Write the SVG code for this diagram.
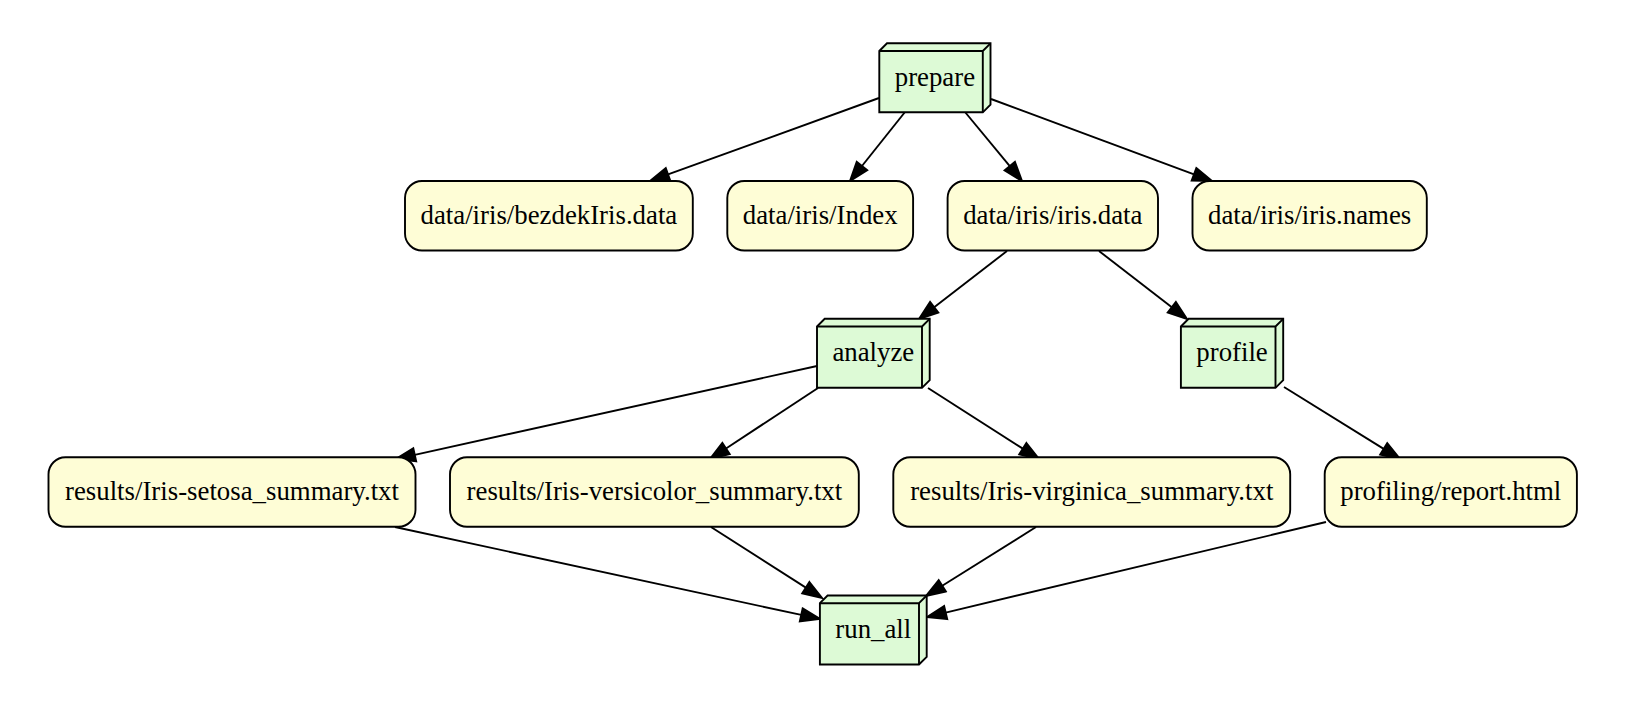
<svg xmlns="http://www.w3.org/2000/svg" width="1642" height="702" viewBox="0 0 1642 702">
<style>
.file rect{fill:#fefdd6;stroke:#000;stroke-width:1.9}
.task path{fill:#ddfad6;stroke:#000;stroke-width:1.9;stroke-linejoin:miter}
.task path.ln{fill:none}
text{font-family:"Liberation Serif","Times New Roman",serif;font-size:26.8px;text-anchor:middle;fill:#000}
#edges line{stroke:#000;stroke-width:1.9;marker-end:url(#arr)}
</style>
<defs>
<marker id="arr" viewBox="0 0 19.2 13.4" refX="0" refY="6.7" markerWidth="19.2" markerHeight="13.4" markerUnits="userSpaceOnUse" orient="auto" overflow="visible">
<path d="M0,0 L19.2,6.7 L0,13.4 Z" fill="#000" stroke="#000" stroke-width="1.9" stroke-linejoin="miter"/>
</marker>
</defs>
<rect width="1642" height="702" fill="#fff"/>
<g id="edges">
<line x1="879" y1="98" x2="668.05" y2="174.46"/>
<line x1="905" y1="112" x2="861.97" y2="165.99"/>
<line x1="965" y1="112" x2="1009.77" y2="166.2"/>
<line x1="991" y1="99" x2="1194" y2="174.32"/>
<line x1="1007" y1="251" x2="934.19" y2="307.26"/>
<line x1="1099" y1="251" x2="1171.81" y2="307.26"/>
<line x1="817" y1="366" x2="414.75" y2="454.86"/>
<line x1="818" y1="388" x2="726.04" y2="448.45"/>
<line x1="928" y1="388" x2="1022.83" y2="448.65"/>
<line x1="1284" y1="387" x2="1383.69" y2="448.87"/>
<line x1="395" y1="527" x2="801.23" y2="614.94"/>
<line x1="711" y1="527" x2="805.83" y2="587.65"/>
<line x1="1036" y1="527" x2="942.26" y2="585.8"/>
<line x1="1326" y1="522" x2="945.68" y2="612.55"/>
</g>
<g id="prepare" class="task">
<path d="M879.3,51 L887,43.3 L990.5,43.3 L990.5,104.6 L982.8,112.3 L879.3,112.3 Z"/>
<path class="ln" d="M982.8,51 L879.3,51 M982.8,51 L982.8,112.3 M982.8,51 L990.5,43.3"/>
<text x="934.9" y="85.8">prepare</text>
</g>
<g id="bezdek" class="file">
<rect x="405" y="181" width="287.8" height="69.5" rx="17"/>
<text x="548.9" y="223.8">data/iris/bezdekIris.data</text>
</g>
<g id="index" class="file">
<rect x="727.3" y="181" width="185.8" height="69.5" rx="17"/>
<text x="820.2" y="223.8">data/iris/Index</text>
</g>
<g id="irisdata" class="file">
<rect x="947.6" y="181" width="210.4" height="69.5" rx="17"/>
<text x="1052.8" y="223.8">data/iris/iris.data</text>
</g>
<g id="irisnames" class="file">
<rect x="1192.5" y="181" width="234.3" height="69.5" rx="17"/>
<text x="1309.65" y="223.8">data/iris/iris.names</text>
</g>
<g id="analyze" class="task">
<path d="M817,326.5 L824.7,318.8 L929.7,318.8 L929.7,380.1 L922,387.8 L817,387.8 Z"/>
<path class="ln" d="M922,326.5 L817,326.5 M922,326.5 L922,387.8 M922,326.5 L929.7,318.8"/>
<text x="873.35" y="361.3">analyze</text>
</g>
<g id="profile" class="task">
<path d="M1180.9,326.5 L1188.6,318.8 L1283.2,318.8 L1283.2,380.1 L1275.5,387.8 L1180.9,387.8 Z"/>
<path class="ln" d="M1275.5,326.5 L1180.9,326.5 M1275.5,326.5 L1275.5,387.8 M1275.5,326.5 L1283.2,318.8"/>
<text x="1232.05" y="361.3">profile</text>
</g>
<g id="setosa" class="file">
<rect x="48.5" y="457.3" width="367" height="69.4" rx="17"/>
<text x="232" y="500">results/Iris-setosa_summary.txt</text>
</g>
<g id="versicolor" class="file">
<rect x="450" y="457.3" width="408.8" height="69.4" rx="17"/>
<text x="654.4" y="500">results/Iris-versicolor_summary.txt</text>
</g>
<g id="virginica" class="file">
<rect x="893.3" y="457.3" width="396.9" height="69.4" rx="17"/>
<text x="1091.75" y="500">results/Iris-virginica_summary.txt</text>
</g>
<g id="report" class="file">
<rect x="1324.7" y="457.3" width="252.2" height="69.4" rx="17"/>
<text x="1450.8" y="500">profiling/report.html</text>
</g>
<g id="run_all" class="task">
<path d="M819.9,603.2 L827.6,595.5 L926.7,595.5 L926.7,656.8 L919,664.5 L819.9,664.5 Z"/>
<path class="ln" d="M919,603.2 L819.9,603.2 M919,603.2 L919,664.5 M919,603.2 L926.7,595.5"/>
<text x="873.3" y="638">run_all</text>
</g>
</svg>
